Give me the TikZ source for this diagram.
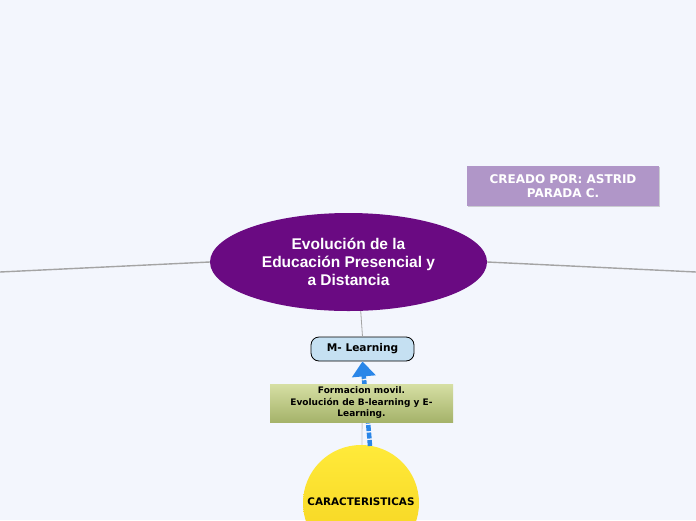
\documentclass[tikz,border=0pt]{standalone}
\usepackage{fontspec}
\setmainfont{DejaVu Sans}
\newfontfamily\arialfont{Liberation Sans}
\usetikzlibrary{shapes.geometric,arrows.meta,shadows}
\definecolor{bgc}{HTML}{F3F6FD}
\definecolor{mainpurple}{HTML}{6A0A82}
\definecolor{mlblue}{HTML}{C5E0F2}
\definecolor{greentop}{HTML}{D6DFA4}
\definecolor{greenbot}{HTML}{A5B36A}
\definecolor{yeltop}{HTML}{FFEA3A}
\definecolor{yelbot}{HTML}{F5D21E}
\definecolor{lilac}{HTML}{B096C8}
\definecolor{linegray}{HTML}{A4A4A4}
\definecolor{arrowblue}{HTML}{2A86E8}
\tikzset{
  conn/.style={draw=linegray, line width=1.4pt},
  thinconn/.style={draw=linegray!60, line width=0.8pt},
  mainnode/.style={ellipse, fill=mainpurple, minimum width=277pt, minimum height=98pt, inner sep=0pt,
    text=white, font=\arialfont\bfseries\fontsize{15.5}{18}\selectfont, align=center},
  mlnode/.style={rectangle, rounded corners=8pt, draw=black, line width=0.8pt, fill=mlblue,
    minimum width=103pt, minimum height=24pt, font=\bfseries\fontsize{10.6}{12}\selectfont},
  greennode/.style={rectangle, top color=greentop, bottom color=greenbot, minimum width=183pt,
    minimum height=38pt, inner sep=0pt, align=center, font=\bfseries\fontsize{9}{11.5}\selectfont,
    drop shadow={shadow xshift=0.4pt, shadow yshift=-1pt, opacity=0.25}},
  yelnode/.style={circle, top color=yeltop, bottom color=yelbot, minimum size=116pt, inner sep=0pt},
  lilacnode/.style={rectangle, fill=lilac, minimum width=192pt, minimum height=40pt, align=center,
    text=white, font=\bfseries\fontsize{12}{14}\selectfont, drop shadow={shadow xshift=0.6pt, shadow yshift=-1.2pt, opacity=0.35}},
  blueflow/.style={draw=arrowblue, line width=4.5pt, dash pattern=on 6pt off 1.5pt,
    -{Triangle[width=23pt,length=15pt,fill=arrowblue]}}
}
\begin{document}
\begin{tikzpicture}[x=1pt,y=-1pt]
\fill[bgc] (0,0) rectangle (696,520);
\useasboundingbox (0,0) rectangle (696,520);
\coordinate (leftend) at (0,272);
\coordinate (rightend) at (696,272);
\coordinate (lowend) at (362,445);
\node[mainnode] (main) at (348.5,262) {Evolución de la\\Educación Presencial y\\a Distancia};
\node[mlnode] (ml) at (362.5,349) {M- Learning};
\draw[thinconn] (ml.south) -- (lowend);
\node[yelnode] (yel) at (361,503) {};
\draw[blueflow] (370,446) .. controls (368,420) and (365,390) .. (ml.south);
\node[greennode] (green) at (361.5,403) {Formacion movil.\\Evolución de B-learning y E-\\Learning.};
\node[font=\bfseries\fontsize{10.4}{12}\selectfont] (yeltext) at (361,502) {CARACTERISTICAS};
\node[lilacnode] (lilac) at (563,186) {CREADO POR: ASTRID\\PARADA C.};
\draw[conn] (leftend) -- (main.west);
\draw[conn] (main.east) -- (rightend);
\draw[conn, line width=0.8pt] (main.-76) -- (ml.north);
\end{tikzpicture}
\end{document}
